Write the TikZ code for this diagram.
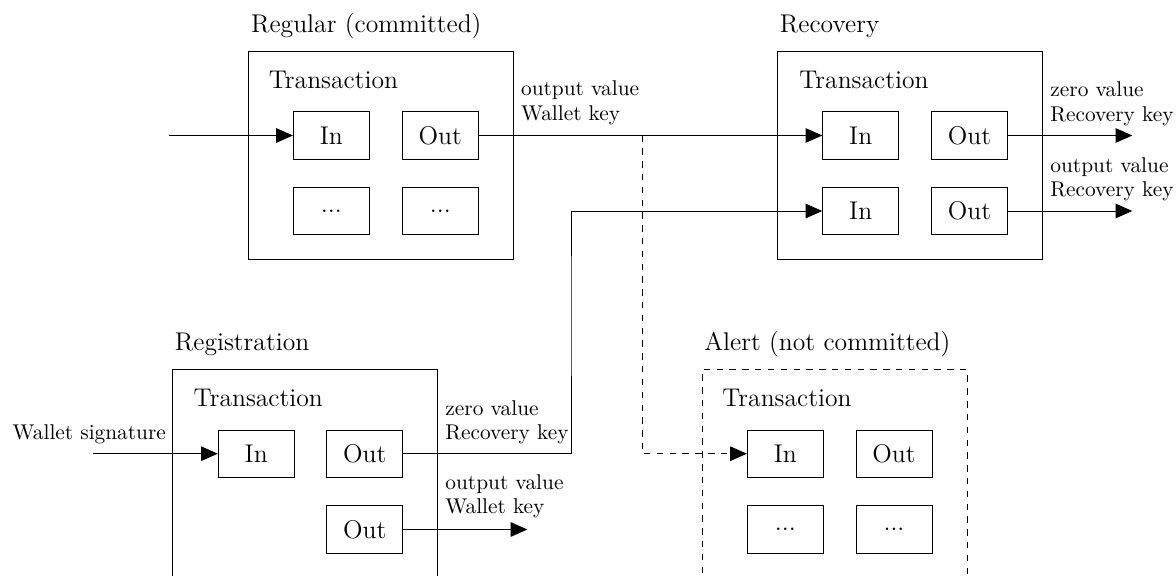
\documentclass[tikz,border=0pt]{standalone}
\usetikzlibrary{arrows.meta}
\begin{document}
\begin{tikzpicture}[x=0.4684pt,y=-0.4684pt,
  tbox/.style={draw, minimum width=35.6pt, minimum height=22.2pt, inner sep=0pt, font=\large},
  frame/.style={draw, anchor=north west, minimum width=124.1pt, minimum height=97.6pt, inner sep=0pt},
  ttl/.style={anchor=base west, inner sep=0pt, font=\large},
  side/.style={anchor=base west, inner sep=0pt, align=left, font=\fontsize{10}{11.3}\selectfont},
  arr/.style={-{Triangle[length=7.8pt,width=6.8pt]}}]
\useasboundingbox (0,0) rectangle (1176,576);
\clip (0,0) rectangle (1176,576);

% frames
\node[frame] (regf) at (248,51) {};
\node[frame] (recf) at (777,51) {};
\node[frame] (gf) at (172.3,369.3) {};
\node[frame, dashed] (af) at (701.7,369.3) {};

% titles
\node[ttl] (regt) at (250.7,32.3) {Regular (committed)};
\node[ttl] (rect) at (779.5,32.3) {Recovery};
\node[ttl] (gt) at (174.5,350.6) {Registration};
\node[ttl] (at) at (704,350.6) {Alert (not committed)};

\node[ttl] (regtx) at (268.5,88.3) {Transaction};
\node[ttl] (rectx) at (799,88.3) {Transaction};
\node[ttl] (gtx) at (193.3,406.3) {Transaction};
\node[ttl] (atx) at (722,406.3) {Transaction};

% inner boxes
\node[tbox] (rin) at (331.3,135.5) {In};
\node[tbox] (rout) at (440.3,135.5) {Out};
\node[tbox] (rd1) at (331.3,211) {...};
\node[tbox] (rd2) at (440.3,211) {...};

\node[tbox] (cin1) at (860.7,135.5) {In};
\node[tbox] (cout1) at (969.5,135.5) {Out};
\node[tbox] (cin2) at (860.7,211) {In};
\node[tbox] (cout2) at (969.5,211) {Out};

\node[tbox] (gin) at (256.2,453.7) {In};
\node[tbox] (gout1) at (364.7,453.7) {Out};
\node[tbox] (gout2) at (364.7,529.5) {Out};

\node[tbox] (ain) at (785.3,453.7) {In};
\node[tbox] (aout) at (894,453.7) {Out};
\node[tbox] (ad1) at (785.3,529.5) {...};
\node[tbox] (ad2) at (894,529.5) {...};

% side labels (base = baseline of the last line)
\node[side] (l1) at (520.7,120) {output value\\Wallet key};
\node[side] (l2) at (1050,121) {zero value\\Recovery key};
\node[side] (l3) at (1050,196.7) {output value\\Recovery key};
\node[side] (l4) at (445,439.3) {zero value\\Recovery key};
\node[side] (l5) at (445,513.3) {output value\\Wallet key};
\node[side] (l6) at (12.3,439) {Wallet signature};

% coordinates
\coordinate (s1) at (169,135.5);
\coordinate (s2) at (93.3,453.7);
\coordinate (branch) at (642,135.5);
\coordinate (turn) at (571,300);
\coordinate (e1) at (1132.3,135.5);
\coordinate (e2) at (1132.3,211);
\coordinate (e3) at (527.3,529.5);

% connectors
\draw[arr] (s1) -- (rin.west);
\draw[arr] (rout.east) -- (cin1.west);
\draw[arr, dashed] (branch) |- (ain.west);
\draw[arr] (gout1.east) -| (turn) |- (cin2.west);
\draw[arr] (cout1.east) -- (e1);
\draw[arr] (cout2.east) -- (e2);
\draw[arr] (s2) -- (gin.west);
\draw[arr] (gout2.east) -- (e3);
\end{tikzpicture}
\end{document}
